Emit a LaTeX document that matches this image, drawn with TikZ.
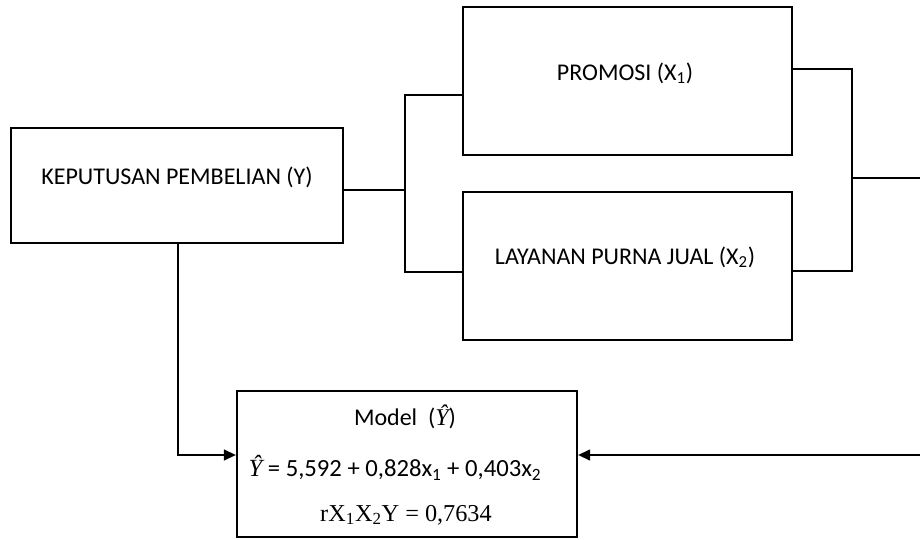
\documentclass[tikz,border=0pt]{standalone}
\usepackage{fontspec}
\setmainfont{Carlito}
\newfontfamily\serif{Liberation Serif}
\usetikzlibrary{arrows.meta}
\begin{document}
\begin{tikzpicture}[x=0.75pt,y=-0.75pt,
  box/.style={draw, line width=1.6pt, inner sep=0pt, fill=white},
  lbl/.style={font=\fontsize{18}{21}\selectfont, inner sep=0pt, anchor=center},
  conn/.style={line width=1.6pt},
  arr/.style={line width=1.6pt, -{Triangle[length=9pt,width=8pt]}}]
\useasboundingbox (0,0) rectangle (920,539);
\fill[white] (0,0) rectangle (920,539);
% boxes
\node[box, minimum width=249pt, minimum height=86.25pt] (kep) at (177,185.5) {};
\node[box, minimum width=246.75pt, minimum height=111pt] (pro) at (627.5,81) {};
\node[box, minimum width=246.75pt, minimum height=111pt] (lay) at (627.5,266) {};
\node[box, minimum width=255pt, minimum height=109.5pt] (mod) at (407,464) {};
% labels
\node[lbl] (kept) at (177,177) {KEPUTUSAN PEMBELIAN (Y)};
\node[lbl] (prot) at (625,73) {PROMOSI (X\textsubscript{1})};
\node[lbl] (layt) at (625,257) {LAYANAN PURNA JUAL (X\textsubscript{2})};
\node[lbl] (modt1) at (405,417) {Model\ \ ({\serif\itshape Ŷ})};
\node[lbl, font=\fontsize{18.5}{21}\selectfont] (modt2) at (395,468) {{\serif\itshape Ŷ} = 5,592 + 0,828x\textsubscript{1} + 0,403x\textsubscript{2}};
\node[lbl, font=\serif\fontsize{18.2}{21}\selectfont] (modt3) at (406,515) {rX\textsubscript{1}X\textsubscript{2}Y = 0,7634};
% junction coordinates
\coordinate (bl) at (405,190);
\coordinate (blt) at (405,95);
\coordinate (blb) at (405,272);
\coordinate (brt) at (852,69);
\coordinate (brb) at (852,271);
\coordinate (brm) at (852,178);
\coordinate (redge) at (920,178);
\coordinate (redge2) at (920,455);
\coordinate (ma) at (178,455);
% connectors
\draw[conn] (kep.east |- bl) -- (bl);
\draw[conn] (pro.west |- blt) -- (blt) -- (blb) -- (lay.west |- blb);
\draw[conn] (pro.east |- brt) -- (brt) -- (brb) -- (lay.east |- brb);
\draw[conn] (brm) -- (redge);
\draw[arr] (kep.south -| ma) -- (ma) -- (mod.west |- ma);
\draw[arr] (redge2) -- (mod.east |- redge2);
\end{tikzpicture}
\end{document}
